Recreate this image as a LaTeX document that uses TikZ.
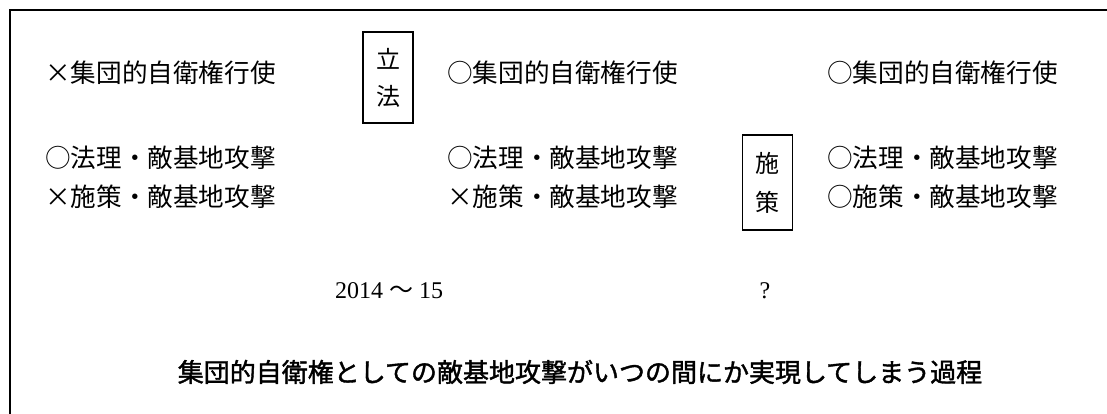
\documentclass[tikz,border=0pt]{standalone}
\usepackage{fontspec}
\setmainfont{Liberation Serif}
\newfontfamily\cjk{Noto Sans CJK JP}
\newfontfamily\cjkbold[FakeBold=1.5]{Noto Sans CJK JP}
\usetikzlibrary{positioning}

\begin{document}
\begin{tikzpicture}[x=1pt,y=-1pt,
    row/.style={anchor=west,inner sep=0pt,font=\cjk\fontsize{25.6}{30}\selectfont},
    stagebox/.style={draw,line width=1.6pt,align=center,minimum width=50pt,inner sep=0pt},
    year/.style={inner sep=0pt,font=\fontsize{24}{28}\selectfont}]
  \useasboundingbox (0,0) rectangle (1107,414);
  \draw[line width=2pt] (10,414) -- (10,10) -- (1107,10);
  % before
  \node[row] (colA) at (45,73) {×集団的自衛権行使};
  \node[row] (lawA) at (45,158) {○法理・敵基地攻撃};
  \node[row] (actA) at (45,197) {×施策・敵基地攻撃};
  % after legislation
  \node[row] (colB) at (447,73) {○集団的自衛権行使};
  \node[row] (lawB) at (447,158) {○法理・敵基地攻撃};
  \node[row] (actB) at (447,197) {×施策・敵基地攻撃};
  % after policy
  \node[row] (colC) at (827,73) {○集団的自衛権行使};
  \node[row] (lawC) at (827,158) {○法理・敵基地攻撃};
  \node[row] (actC) at (827,197) {○施策・敵基地攻撃};
  % steps
  \node[stagebox,minimum height=91pt,font=\cjk\fontsize{24}{37}\selectfont] (legis) at (388,77.5) {立\\法};
  \node[stagebox,minimum height=95pt,font=\cjk\fontsize{24}{39}\selectfont] (policy) at (767.5,182.5) {施\\策};
  \node[year,anchor=west] (yearA) at (335,291) {2014 {\cjk ～} 15};
  \node[year] (yearB) at (765,291) {?};
  \node[inner sep=0pt,font=\cjkbold\fontsize{26}{30}\selectfont] (caption) at (580,372)
    {集団的自衛権としての敵基地攻撃がいつの間にか実現してしまう過程};
\end{tikzpicture}
\end{document}
